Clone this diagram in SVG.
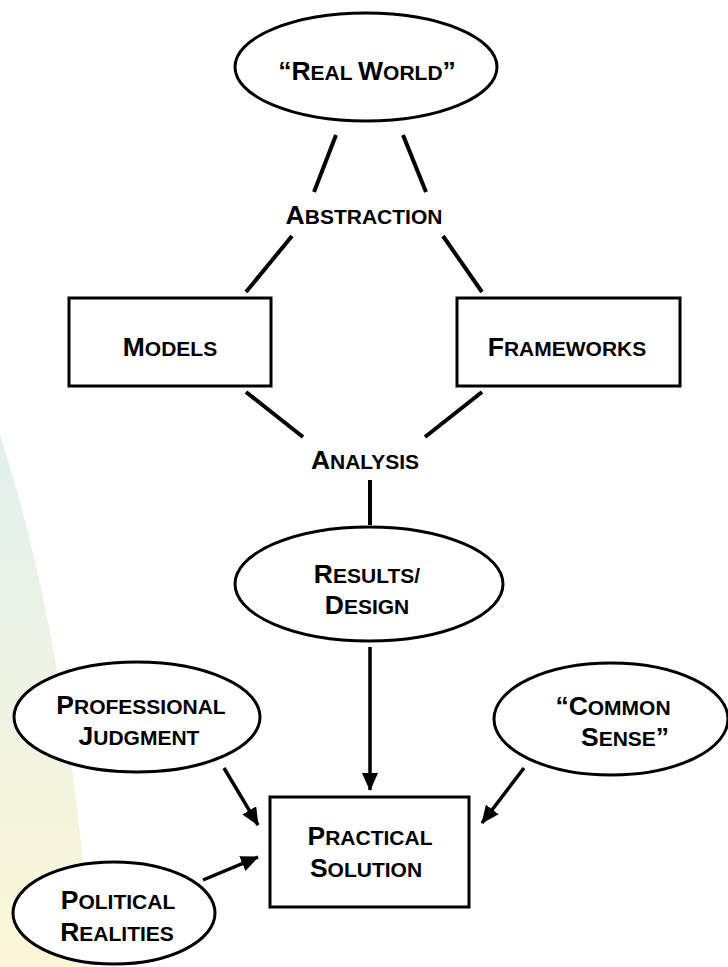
<svg xmlns="http://www.w3.org/2000/svg" width="728" height="967" viewBox="0 0 728 967">
<defs>
<linearGradient id="bg" x1="0" y1="440" x2="0" y2="967" gradientUnits="userSpaceOnUse">
<stop offset="0" stop-color="#e1f0ee"/>
<stop offset="0.5" stop-color="#eff3e2"/>
<stop offset="1" stop-color="#fbf6d6"/>
</linearGradient>
<marker id="ah" markerUnits="userSpaceOnUse" markerWidth="18" markerHeight="16" refX="17" refY="8" orient="auto">
<path d="M0,0 L18,8 L0,16 Z" fill="#000"/>
</marker>
<style>
.shape{fill:#fff;stroke:#000;stroke-width:3}
.ln{stroke:#000;stroke-width:4;fill:none}
.ar{stroke:#000;stroke-width:3.5;fill:none;marker-end:url(#ah)}
text{font-family:"Liberation Sans",Arial,sans-serif;font-weight:bold;font-size:21px;fill:#000;text-anchor:middle}
.b{font-size:26.5px}
</style>
</defs>
<rect width="728" height="967" fill="#fff"/>
<path d="M0,435 Q70,650 92,967 L0,967 Z" fill="url(#bg)"/>
<g id="connectors">
<line class="ln" x1="336" y1="135" x2="314" y2="192"/>
<line class="ln" x1="403" y1="135" x2="426" y2="192"/>
<line class="ln" x1="292" y1="236" x2="246" y2="292"/>
<line class="ln" x1="443" y1="236" x2="482" y2="292"/>
<line class="ln" x1="246" y1="392" x2="303" y2="437"/>
<line class="ln" x1="482" y1="392" x2="425" y2="437"/>
<line class="ln" x1="370" y1="480" x2="370" y2="525"/>
<line class="ar" x1="370" y1="647" x2="370" y2="790"/>
<line class="ar" x1="224" y1="768" x2="258" y2="825"/>
<line class="ar" x1="524" y1="768" x2="482" y2="823"/>
<line class="ar" x1="203" y1="880" x2="258" y2="857"/>
</g>
<g id="real-world">
<ellipse class="shape" cx="366" cy="67" rx="131" ry="54"/>
<text x="367" y="80"><tspan class="b">“R</tspan>EAL <tspan class="b">W</tspan>ORLD<tspan class="b">”</tspan></text>
</g>
<g id="abstraction">
<text x="364" y="224"><tspan class="b">A</tspan>BSTRACTION</text>
</g>
<g id="models">
<rect class="shape" x="69" y="298" width="202" height="88"/>
<text x="170" y="356"><tspan class="b">M</tspan>ODELS</text>
</g>
<g id="frameworks">
<rect class="shape" x="457" y="298" width="223" height="88"/>
<text x="567" y="356"><tspan class="b">F</tspan>RAMEWORKS</text>
</g>
<g id="analysis">
<text x="365" y="469"><tspan class="b">A</tspan>NALYSIS</text>
</g>
<g id="results-design">
<ellipse class="shape" cx="369" cy="584" rx="134" ry="57"/>
<text x="367" y="583"><tspan class="b">R</tspan>ESULTS/</text>
<text x="367" y="614"><tspan class="b">D</tspan>ESIGN</text>
</g>
<g id="professional-judgment">
<ellipse class="shape" cx="137" cy="717" rx="123" ry="55"/>
<text x="141" y="714"><tspan class="b">P</tspan>ROFESSIONAL</text>
<text x="139" y="745"><tspan class="b">J</tspan>UDGMENT</text>
</g>
<g id="common-sense">
<ellipse class="shape" cx="611" cy="719" rx="117" ry="56"/>
<text x="613" y="715"><tspan class="b">“C</tspan>OMMON</text>
<text x="625" y="746"><tspan class="b">S</tspan>ENSE<tspan class="b">”</tspan></text>
</g>
<g id="practical-solution">
<rect class="shape" x="270" y="797" width="199" height="110"/>
<text x="370" y="845"><tspan class="b">P</tspan>RACTICAL</text>
<text x="366" y="877"><tspan class="b">S</tspan>OLUTION</text>
</g>
<g id="political-realities">
<ellipse class="shape" cx="114" cy="913" rx="101" ry="51"/>
<text x="118" y="909"><tspan class="b">P</tspan>OLITICAL</text>
<text x="117" y="941"><tspan class="b">R</tspan>EALITIES</text>
</g>
</svg>
